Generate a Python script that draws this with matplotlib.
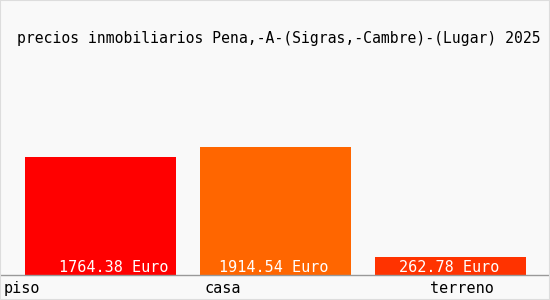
import matplotlib.pyplot as plt
from matplotlib.patches import Rectangle
from matplotlib.transforms import ScaledTranslation

# datos
categorias = ['piso', 'casa', 'terreno']
precios = [1764.38, 1914.54, 262.78]
colores = ['#ff0000', '#ff6600', '#ff3300']
titulo = 'precios inmobiliarios Pena,-A-(Sigras,-Cambre)-(Lugar) 2025'

fuente = 'DejaVu Sans Mono'
tam = 10.9

fig = plt.figure(figsize=(5.5, 3), dpi=100, facecolor='#f9f9f9')
# ejes: de x=0 a 550 px, de la base (y=275) hasta arriba
ax = fig.add_axes([0, 25 / 300, 1, 275 / 300])
ax.set_facecolor('#f9f9f9')

x = list(range(len(categorias)))
ax.bar(x, precios, width=151 / 175, color=colores)
ax.set_xlim(-100.5 / 175, (550 - 100.5) / 175)
ax.set_ylim(0, 1914.54 * 275 / 128)

# desplazamiento horizontal de las etiquetas de valor (px)
desp_val = [13, -2, -1]
for i, v in enumerate(precios):
    t = ax.text(i, 0, f'{v:.2f} Euro', ha='center', va='bottom', color='white',
                family=fuente, fontsize=tam)
    t.set_transform(ax.transData + ScaledTranslation(desp_val[i] / 100, 0, fig.dpi_scale_trans))

for s in ['top', 'right', 'left']:
    ax.spines[s].set_visible(False)
ax.spines['bottom'].set_color('#999999')
ax.spines['bottom'].set_linewidth(1)
ax.set_yticks([])
ax.set_xticks(x)
ax.set_xticklabels(categorias, family=fuente, fontsize=tam)
ax.tick_params(axis='x', length=0, pad=4)
# desplazamiento de las etiquetas como en el original (en px)
desp = [-79, -53, 11]
for lab, d in zip(ax.get_xticklabels(), desp):
    lab.set_ha('center')
    lab.set_transform(lab.get_transform() + ScaledTranslation(d / 100, 0, fig.dpi_scale_trans))

fig.text(17 / 550, 1 - 43 / 300, titulo, family=fuente, fontsize=10.65,
         ha='left', va='baseline')

# borde gris claro
fig.patches.append(Rectangle((0, 0), 1, 1, transform=fig.transFigure,
                             fill=False, edgecolor='#dddddd', linewidth=1.5))

fig.savefig('out.png', dpi=100, facecolor=fig.get_facecolor())
